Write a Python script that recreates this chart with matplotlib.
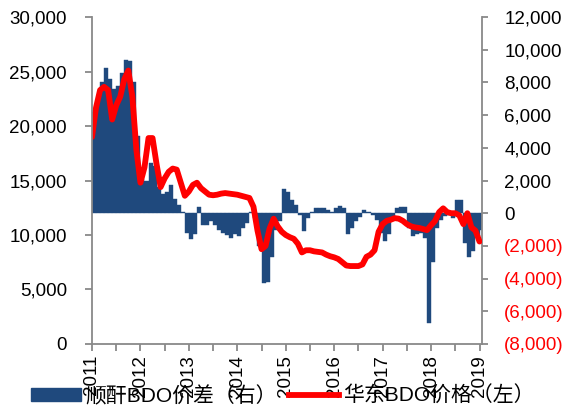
import matplotlib
matplotlib.use('Agg')
import matplotlib.pyplot as plt
from matplotlib.patches import Patch
from matplotlib.lines import Line2D
import numpy as np

plt.rcParams['font.family'] = ['Liberation Sans', 'Noto Sans CJK SC', 'DejaVu Sans']

# monthly series, Jan 2011 .. Jan 2019
start_year = 2011
# 华东BDO价格 (left axis, yuan/t)
bdo_price = [
    19000, 21700, 23300, 23600, 23300, 20600, 21900, 22700, 24300, 25100, 22700, 17800,  # 2011
    14800, 16200, 18900, 18900, 16500, 14400, 15200, 15800, 16100, 16000, 14800, 13600,  # 2012
    14000, 14600, 14800, 14300, 14000, 13700, 13650, 13700, 13800, 13850, 13800, 13750,  # 2013
    13700, 13600, 13500, 13400, 12600, 10400, 8700, 9000, 10600, 11500, 10800, 10300,    # 2014
    10000, 9800, 9650, 9200, 8400, 8600, 8600, 8500, 8450, 8400, 8200, 8050,             # 2015
    7950, 7800, 7500, 7200, 7150, 7150, 7150, 7300, 8000, 8200, 8600, 10300,             # 2016
    11000, 11300, 11400, 11550, 11500, 11300, 11000, 10800, 10700, 10650, 10550, 10450,  # 2017
    10900, 11300, 12100, 12450, 12100, 12000, 12000, 11800, 11000, 12000, 10700, 10400,  # 2018
    9400,                                                                                # 2019
]
# 顺酐BDO价差 (right axis)
spread = [
    6200, 6900, 8000, 8900, 8200, 7600, 7800, 8600, 9400, 9300, 8000, 4700,
    2100, 2000, 3100, 2900, 1600, 1200, 1300, 1700, 900, 500, 100, -1200,
    -1600, -1300, 400, -700, -700, -500, -700, -1000, -1200, -1350, -1500, -1300,
    -1400, -900, -600, 100, -300, -2000, -4300, -4200, -2700, -1000, -500, 1500,
    1300, 800, 500, -100, -1100, -300, 100, 300, 300, 300, 200, 100,
    350, 430, 300, -1300, -900, -500, -250, 200, 100, -100, -400, -1200,
    -1700, -1300, -300, 350, 400, 400, -900, -1400, -1300, -1200, -1500, -6700,
    -3000, -900, -400, -200, -100, -300, 800, 800, -1800, -2700, -2300, -1400,
    -1000,
]
years = list(range(2011, 2020))
left_ticks = list(range(0, 30001, 5000))
right_ticks = list(range(-8000, 12001, 2000))
labels = ['顺酐BDO价差（右）', '华东BDO价格（左）']

t = start_year + np.arange(len(bdo_price)) / 12.0

fig = plt.figure(figsize=(5.63, 4.08), dpi=100)
ax = fig.add_axes([0.1634, 0.157, 0.6926, 0.801])
ax2 = ax.twinx()

bar_color = '#1F497D'
ax2.bar(t, spread, width=1/12, align='edge', color=bar_color, edgecolor=bar_color, linewidth=0.3)
ax.plot(t, bdo_price, color='#FF0000', linewidth=4.2, solid_joinstyle='round', solid_capstyle='round')

ax.set_zorder(ax2.get_zorder() + 1)
ax.patch.set_visible(False)

ax.set_xlim(2011, 2019.05)
ax.set_ylim(0, 30000)
ax2.set_ylim(-8000, 12000)

grey = '#898989'
for a in (ax, ax2):
    for s in a.spines.values():
        s.set_color(grey)
        s.set_linewidth(1.3)
    a.spines['top'].set_visible(False)
ax.spines['right'].set_visible(False)
ax2.spines['left'].set_visible(False)
ax2.spines['bottom'].set_visible(False)

ax.set_yticks(left_ticks)
ax.set_yticklabels([f'{v:,}' for v in left_ticks])
ax.tick_params(axis='y', length=5, width=1.3, color=grey, labelsize=13.5, pad=13)

ax2.set_yticks(right_ticks)
ax2.set_yticklabels([f'{v:,}' if v >= 0 else f'({-v:,})' for v in right_ticks])
ax2.tick_params(axis='y', length=4, width=1.3, color=grey, labelsize=13.5, pad=12)
for lab, v in zip(ax2.get_yticklabels(), right_ticks):
    lab.set_color('#FF0000' if v < 0 else 'black')

half = np.arange(2011, 2019.01, 0.5)
ax.set_xticks(half)
ax.set_xticklabels([str(int(h)) if h == int(h) else '' for h in half], rotation=90)
ax.tick_params(axis='x', length=5, width=1.3, color=grey, labelsize=13.5, pad=3)

handles = [Patch(facecolor=bar_color, edgecolor=bar_color),
           Line2D([0], [0], color='#FF0000', linewidth=4.2)]
fig.legend(handles, labels, loc='center', bbox_to_anchor=(0.502, 0.03), ncol=2,
           frameon=False, fontsize=15, handlelength=2.4, handleheight=0.6,
           handletextpad=0.2, columnspacing=0.6, borderpad=0)

fig.savefig('out.png', dpi=100)
